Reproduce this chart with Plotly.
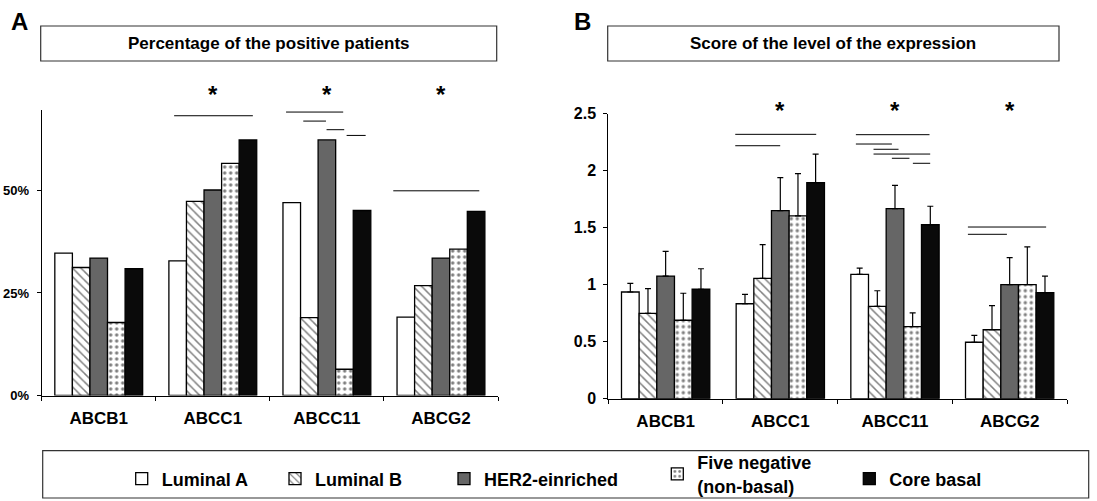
import plotly.graph_objects as go

W, H = 1097, 501

genes = ["ABCB1", "ABCC1", "ABCC11", "ABCG2"]
subtypes = ["Luminal A", "Luminal B", "HER2-einriched", "Five negative<br>(non-basal)", "Core basal"]

# Panel A: percentage of positive patients (%)
pct_lumA = [34.7, 32.8, 47.0, 19.1]
pct_lumB = [31.2, 47.3, 19.0, 26.8]
pct_her2 = [33.5, 50.1, 62.3, 33.5]
pct_five = [17.8, 56.6, 6.4, 35.7]
pct_core = [30.9, 62.3, 45.1, 44.9]
pct_ticks = [0, 25, 50]
pct_ticktext = ["0%", "25%", "50%"]

# Panel B: expression score (mean) and upper error
score_lumA = [0.936, 0.833, 1.091, 0.495]
score_lumB = [0.749, 1.056, 0.810, 0.605]
score_her2 = [1.076, 1.649, 1.667, 1.000]
score_five = [0.688, 1.603, 0.632, 1.000]
score_core = [0.960, 1.895, 1.526, 0.930]
err_lumA = [0.076, 0.083, 0.055, 0.061]
err_lumB = [0.216, 0.295, 0.137, 0.211]
err_her2 = [0.217, 0.290, 0.205, 0.237]
err_five = [0.237, 0.371, 0.120, 0.331]
err_core = [0.180, 0.251, 0.162, 0.146]
score_ticks = [0, 0.5, 1, 1.5, 2, 2.5]
score_ticktext = ["0", "0.5", "1", "1.5", "2", "2.5"]

# significance brackets: (gene index, start offset, end offset, y value)
sig_A = [(1, -0.339, 0.351, 68.2),
         (2, -0.358, 0.143, 69.1), (2, -0.207, -0.008, 66.9),
         (2, -0.003, 0.152, 64.8), (2, 0.173, 0.340, 63.4),
         (3, -0.418, 0.336, 49.9)]
sig_B = [(1, -0.393, 0.313, 2.319), (1, -0.393, -0.001, 2.219),
         (2, -0.341, 0.301, 2.316), (2, -0.341, -0.027, 2.234),
         (2, -0.187, 0.031, 2.188), (2, -0.187, 0.307, 2.146),
         (2, -0.027, 0.126, 2.109), (2, 0.156, 0.307, 2.065),
         (3, -0.364, 0.318, 1.506), (3, -0.364, -0.024, 1.442)]
star_genes = [1, 2, 3]

FONT = "Arial"
styles = [
    dict(color="white", pattern=None),
    dict(color="white", pattern=dict(shape="\\", fgcolor="black", bgcolor="white", size=6, solidity=0.25)),
    dict(color="#666666", pattern=None),
    dict(color="white", pattern=dict(shape=".", fgcolor="black", bgcolor="white", size=6, solidity=0.25)),
    dict(color="#0a0a0a", pattern=None),
]

pcts = [pct_lumA, pct_lumB, pct_her2, pct_five, pct_core]
scores = [score_lumA, score_lumB, score_her2, score_five, score_core]
errs = [err_lumA, err_lumB, err_her2, err_five, err_core]

fig = go.Figure()
legend_names = ["legend", "legend2", "legend3", "legend4", "legend5"]

def make_marker(st):
    m = dict(color=st["color"], line=dict(color="black", width=1.3))
    if st["pattern"]:
        m["pattern"] = st["pattern"]
    return m

for i, name in enumerate(subtypes):
    fig.add_trace(go.Bar(x=genes, y=pcts[i], name=name, marker=make_marker(styles[i]),
                         xaxis="x", yaxis="y", legend=legend_names[i], showlegend=True))
for i, name in enumerate(subtypes):
    fig.add_trace(go.Bar(x=genes, y=scores[i], name=name, marker=make_marker(styles[i]),
                         error_y=dict(type="data", array=errs[i], arrayminus=[0] * len(genes),
                                      symmetric=False, color="black", thickness=1.2, width=3),
                         xaxis="x2", yaxis="y2", showlegend=False))

def px_x(p):
    return p / W

def px_y(p):
    return 1 - p / H

axis_common = dict(showline=True, linecolor="black", linewidth=1, showgrid=False, zeroline=False,
                   ticks="outside", ticklen=4, tickcolor="black", tickwidth=1)

A_bot, A_top = 395.5, 110
B_bot, B_top = 398.7, 113.7

fig.update_layout(
    width=W, height=H, margin=dict(l=0, r=0, t=0, b=0, autoexpand=False),
    paper_bgcolor="white", plot_bgcolor="white",
    barmode="group", bargap=0.23, bargroupgap=0,
    font=dict(family=FONT, color="black", size=14, weight="bold"),
    xaxis=dict(domain=[px_x(41.7), px_x(498)], range=[-0.5, 3.5], anchor="y",
               tickson="boundaries", tickfont=dict(size=17, weight="bold"),
               ticklabelstandoff=7, automargin=False, **axis_common),
    yaxis=dict(domain=[px_y(A_bot), px_y(A_top)], range=[0, 69.6], anchor="x",
               tickvals=pct_ticks, ticktext=pct_ticktext, tickfont=dict(size=13, weight="bold"),
               ticklabelstandoff=5, automargin=False, **axis_common),
    xaxis2=dict(domain=[px_x(608.3), px_x(1067)], range=[-0.5, 3.5], anchor="y2",
                tickson="boundaries", tickfont=dict(size=17, weight="bold"),
                ticklabelstandoff=7, automargin=False, **axis_common),
    yaxis2=dict(domain=[px_y(B_bot), px_y(B_top)], range=[0, 2.5], anchor="x2",
                tickvals=score_ticks, ticktext=score_ticktext,
                tickfont=dict(size=16, weight="bold"), ticklabelstandoff=4,
                automargin=False, **axis_common),
)

# legends placed individually
legend_text_x = [161.7, 315, 484, 697.3, 889.3]
legend_text_y = [479, 479, 479, 474, 479]
for i, ln in enumerate(legend_names):
    fig.update_layout(**{ln: dict(x=px_x(legend_text_x[i] - 40), xanchor="left",
                                  y=px_y(legend_text_y[i]), yanchor="middle", orientation="h",
                                  bgcolor="rgba(0,0,0,0)", borderwidth=0,
                                  font=dict(family=FONT, size=18, weight="bold"))})

shapes = []
annotations = []
# title boxes
for (x0, x1, title) in [(40.7, 496.7, "Percentage of the positive patients"),
                        (607.7, 1059, "Score of the level of the expression")]:
    shapes.append(dict(type="rect", xref="paper", yref="paper", x0=px_x(x0), x1=px_x(x1),
                       y0=px_y(61), y1=px_y(26), line=dict(color="#333", width=1.2)))
    annotations.append(dict(text=title, xref="paper", yref="paper", x=px_x((x0 + x1) / 2),
                            y=px_y(43.5), showarrow=False, xanchor="center", yanchor="middle",
                            font=dict(size=17, weight="bold")))
# panel letters
annotations.append(dict(text="A", xref="paper", yref="paper", x=px_x(19), y=px_y(21),
                        xanchor="center", yanchor="middle",
                        showarrow=False, font=dict(size=24, weight="bold")))
annotations.append(dict(text="B", xref="paper", yref="paper", x=px_x(582), y=px_y(21),
                        xanchor="center", yanchor="middle",
                        showarrow=False, font=dict(size=24, weight="bold")))
# legend box
shapes.append(dict(type="rect", xref="paper", yref="paper", x0=px_x(42.7), x1=px_x(1088.7),
                   y0=px_y(498), y1=px_y(450.7), line=dict(color="#333", width=1.2)))

# significance lines and stars
for (g, a, b, yv) in sig_A:
    shapes.append(dict(type="line", xref="x", yref="y", x0=g + a, x1=g + b, y0=yv, y1=yv,
                       line=dict(color="black", width=1)))
for (g, a, b, yv) in sig_B:
    shapes.append(dict(type="line", xref="x2", yref="y2", x0=g + a, x1=g + b, y0=yv, y1=yv,
                       line=dict(color="black", width=1)))
starA = (A_bot - 94) / (A_bot - A_top)
starB = (B_bot - 110) / (B_bot - B_top)
for g in star_genes:
    annotations.append(dict(text="*", xref="x", yref="y domain", x=g, y=starA, showarrow=False,
                            yanchor="middle", font=dict(size=24, weight="bold")))
    annotations.append(dict(text="*", xref="x2", yref="y2 domain", x=g, y=starB, showarrow=False,
                            yanchor="middle", font=dict(size=24, weight="bold")))

fig.update_layout(shapes=shapes, annotations=annotations)
fig.write_html("out.html", config={"displayModeBar": False},
               post_script="document.body.style.margin='0px';")
